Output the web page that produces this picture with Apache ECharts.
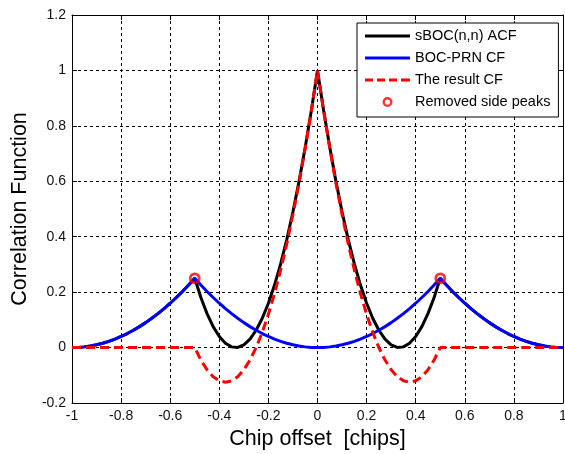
<!DOCTYPE html>
<html>
<head>
<meta charset="utf-8">
<title>Correlation functions</title>
<script src="https://cdn.jsdelivr.net/npm/echarts@6/dist/echarts.min.js"></script>
<style>
  html, body { margin: 0; padding: 0; background: #fff; }
  #chart { width: 565px; height: 454px; }
</style>
</head>
<body>
<div id="chart"></div>
<script>
// Chip offsets (chips), sampled every 0.025 chip from -1 to 1
const offsets = [
  -1, -0.975, -0.95, -0.925, -0.9, -0.875, -0.85, -0.825, -0.8, -0.775,
  -0.75, -0.725, -0.7, -0.675, -0.65, -0.625, -0.6, -0.575, -0.55, -0.525,
  -0.5, -0.475, -0.45, -0.425, -0.4, -0.375, -0.35, -0.325, -0.3, -0.275,
  -0.25, -0.225, -0.2, -0.175, -0.15, -0.125, -0.1, -0.075, -0.05, -0.025,
  0,
  0.025, 0.05, 0.075, 0.1, 0.125, 0.15, 0.175, 0.2, 0.225, 0.25,
  0.275, 0.3, 0.325, 0.35, 0.375, 0.4, 0.425, 0.45, 0.475, 0.5,
  0.525, 0.55, 0.575, 0.6, 0.625, 0.65, 0.675, 0.7, 0.725, 0.75,
  0.775, 0.8, 0.825, 0.85, 0.875, 0.9, 0.925, 0.95, 0.975, 1
];

// sBOC(n,n) autocorrelation
const sbocAcf = [
  0, 0.0006, 0.0025, 0.0056, 0.01, 0.0156, 0.0225, 0.0306, 0.04, 0.0506,
  0.0625, 0.0756, 0.09, 0.1056, 0.1225, 0.1406, 0.16, 0.1806, 0.2025, 0.2256,
  0.25, 0.1806, 0.1225, 0.0756, 0.04, 0.0156, 0.0025, 0.0006, 0.01, 0.0306,
  0.0625, 0.1056, 0.16, 0.2256, 0.3025, 0.3906, 0.49, 0.6006, 0.7225, 0.8556,
  1,
  0.8556, 0.7225, 0.6006, 0.49, 0.3906, 0.3025, 0.2256, 0.16, 0.1056, 0.0625,
  0.0306, 0.01, 0.0006, 0.0025, 0.0156, 0.04, 0.0756, 0.1225, 0.1806, 0.25,
  0.2256, 0.2025, 0.1806, 0.16, 0.1406, 0.1225, 0.1056, 0.09, 0.0756, 0.0625,
  0.0506, 0.04, 0.0306, 0.0225, 0.0156, 0.01, 0.0056, 0.0025, 0.0006, 0
];

// BOC-PRN cross-correlation
const bocPrnCf = [
  0, 0.0006, 0.0025, 0.0056, 0.01, 0.0156, 0.0225, 0.0306, 0.04, 0.0506,
  0.0625, 0.0756, 0.09, 0.1056, 0.1225, 0.1406, 0.16, 0.1806, 0.2025, 0.2256,
  0.25, 0.2256, 0.2025, 0.1806, 0.16, 0.1406, 0.1225, 0.1056, 0.09, 0.0756,
  0.0625, 0.0506, 0.04, 0.0306, 0.0225, 0.0156, 0.01, 0.0056, 0.0025, 0.0006,
  0,
  0.0006, 0.0025, 0.0056, 0.01, 0.0156, 0.0225, 0.0306, 0.04, 0.0506, 0.0625,
  0.0756, 0.09, 0.1056, 0.1225, 0.1406, 0.16, 0.1806, 0.2025, 0.2256, 0.25,
  0.2256, 0.2025, 0.1806, 0.16, 0.1406, 0.1225, 0.1056, 0.09, 0.0756, 0.0625,
  0.0506, 0.04, 0.0306, 0.0225, 0.0156, 0.01, 0.0056, 0.0025, 0.0006, 0
];

// Resulting correlation function
const resultCf = [
  0, 0, 0, 0, 0, 0, 0, 0, 0, 0,
  0, 0, 0, 0, 0, 0, 0, 0, 0, 0,
  0, -0.045, -0.08, -0.105, -0.12, -0.125, -0.12, -0.105, -0.08, -0.045,
  0, 0.055, 0.12, 0.195, 0.28, 0.375, 0.48, 0.595, 0.72, 0.855,
  1,
  0.855, 0.72, 0.595, 0.48, 0.375, 0.28, 0.195, 0.12, 0.055, 0,
  -0.045, -0.08, -0.105, -0.12, -0.125, -0.12, -0.105, -0.08, -0.045, 0,
  0, 0, 0, 0, 0, 0, 0, 0, 0, 0,
  0, 0, 0, 0, 0, 0, 0, 0, 0, 0
];

// Side peaks removed from the result
const peakOffsets = [-0.5, 0.5];
const peakValues = [0.25, 0.25];

const seriesNames = ['sBOC(n,n) ACF', 'BOC-PRN CF', 'The result CF', 'Removed side peaks'];

const FONT = 'Arial, "Liberation Sans", Helvetica, sans-serif';

// Legend keys: a plain stroke, a dashed stroke and a thick ring
const SOLID_KEY = 'path://M0,0 L45,0 L45,3 L0,3 Z';
const DASHED_KEY = 'path://M0,0 L8,0 L8,3 L0,3 Z M12,0 L20,0 L20,3 L12,3 Z ' +
  'M24,0 L32,0 L32,3 L24,3 Z M36,0 L45,0 L45,3 L36,3 Z';
const RING_KEY = 'path://M0,5 A5,5 0 1 1 10,5 A5,5 0 1 1 0,5 Z ' +
  'M2.4,5 A2.6,2.6 0 1 0 7.6,5 A2.6,2.6 0 1 0 2.4,5 Z';

function pairs(xs, ys) {
  return xs.map((x, i) => [x, ys[i]]);
}

const chart = echarts.init(document.getElementById('chart'), null, { renderer: 'canvas' });

const gridLine = { show: true, lineStyle: { color: '#000', type: [3, 3], width: 1 } };
const frameLine = { show: true, onZero: false, lineStyle: { color: '#000', width: 1 } };
const innerTick = { show: true, inside: true, length: 5, lineStyle: { color: '#000', width: 1 } };

chart.setOption({
  animation: false,
  backgroundColor: '#fff',
  grid: { left: 72, right: 2, top: 15, bottom: 51, containLabel: false, outerBoundsMode: 'none' },
  legend: {
    orient: 'vertical',
    left: 357,
    top: 23,
    padding: [5, 8, 7, 8],
    itemWidth: 45,
    itemHeight: 10,
    itemGap: 6,
    backgroundColor: '#fff',
    borderColor: '#000',
    borderWidth: 1,
    borderRadius: 0,
    data: [
      { name: seriesNames[0], icon: SOLID_KEY },
      { name: seriesNames[1], icon: SOLID_KEY },
      { name: seriesNames[2], icon: DASHED_KEY },
      { name: seriesNames[3], icon: RING_KEY, itemStyle: { color: '#ff0000', borderWidth: 0 } }
    ],
    textStyle: { fontFamily: FONT, fontSize: 14.5, lineHeight: 16, color: '#000' }
  },
  xAxis: [
    {
      type: 'value', position: 'bottom', min: -1, max: 1, interval: 0.2,
      axisLine: frameLine, axisTick: innerTick, splitLine: gridLine,
      axisLabel: { color: '#111', fontFamily: FONT, fontSize: 14, margin: 6 },
      name: 'Chip offset  [chips]', nameLocation: 'middle', nameGap: 24,
      nameTextStyle: { fontFamily: FONT, fontSize: 21.5, color: '#000' }
    },
    {
      type: 'value', position: 'top', min: -1, max: 1, interval: 0.2,
      axisLine: frameLine, axisTick: innerTick, splitLine: { show: false },
      axisLabel: { show: false }
    }
  ],
  yAxis: [
    {
      type: 'value', position: 'left', min: -0.2, max: 1.2, interval: 0.2,
      axisLine: frameLine, axisTick: innerTick, splitLine: gridLine,
      axisLabel: { color: '#111', fontFamily: FONT, fontSize: 14, margin: 6 },
      name: 'Correlation Function', nameLocation: 'middle', nameGap: 36,
      nameTextStyle: { fontFamily: FONT, fontSize: 21.5, color: '#000' }
    },
    {
      type: 'value', position: 'right', min: -0.2, max: 1.2, interval: 0.2,
      axisLine: frameLine, axisTick: innerTick, splitLine: { show: false },
      axisLabel: { show: false }
    }
  ],
  series: [
    {
      name: seriesNames[0], type: 'line', xAxisIndex: 0, yAxisIndex: 0,
      data: pairs(offsets, sbocAcf), showSymbol: false, symbol: 'none',
      color: '#000', lineStyle: { color: '#000', width: 3 }, z: 2
    },
    {
      name: seriesNames[1], type: 'line', xAxisIndex: 0, yAxisIndex: 0,
      data: pairs(offsets, bocPrnCf), showSymbol: false, symbol: 'none',
      color: '#0000ff', lineStyle: { color: '#0000ff', width: 3 }, z: 3
    },
    {
      name: seriesNames[2], type: 'line', xAxisIndex: 0, yAxisIndex: 0,
      data: pairs(offsets, resultCf), showSymbol: false, symbol: 'none',
      color: '#ff0000', lineStyle: { color: '#ff0000', width: 3, type: [9, 5] }, z: 4
    },
    {
      name: seriesNames[3], type: 'scatter', xAxisIndex: 0, yAxisIndex: 0,
      data: pairs(peakOffsets, peakValues), symbol: 'circle', symbolSize: 9,
      color: '#ff0000',
      itemStyle: { color: 'rgba(255,255,255,0)', borderColor: '#ff0000', borderWidth: 2.8 },
      z: 5
    }
  ]
});
</script>
</body>
</html>
